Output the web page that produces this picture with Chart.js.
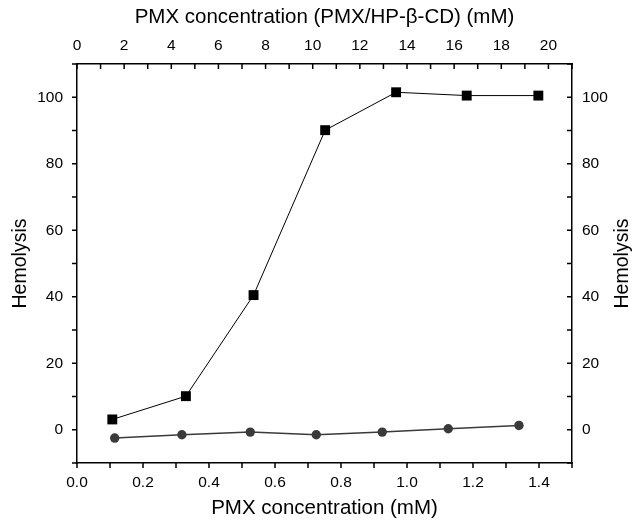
<!DOCTYPE html>
<html>
<head>
<meta charset="utf-8">
<script src="https://cdn.jsdelivr.net/npm/chart.js@4"></script>
<style>
  html, body { margin: 0; padding: 0; background: #fff; }
  #chart { display: block; }
</style>
</head>
<body>
<canvas id="chart" width="635" height="521"></canvas>
<script>
// PMX alone (bottom axis, mM)
const pmxConc = [0.107, 0.33, 0.535, 0.752, 0.967, 1.181, 1.398];
const pmxHemolysis = [3.1, 10.1, 40.5, 90.1, 101.5, 100.5, 100.5];

// PMX/HP-beta-CD complex (top axis, mM)
const complexConc = [1.6, 4.45, 7.35, 10.15, 12.95, 15.75, 18.75];
const complexHemolysis = [-2.5, -1.5, -0.7, -1.5, -0.7, 0.3, 1.3];

const bottomTitle = "PMX concentration (mM)";
const topTitle = "PMX concentration (PMX/HP-\u03B2-CD) (mM)";
const yTitle = "Hemolysis";

const fontFamily = "'Liberation Sans', Arial, sans-serif";
const tickFont = { family: fontFamily, size: 15.5 };
const titleFont = { family: fontFamily, size: 20.5 };
const sideTitleFont = { family: fontFamily, size: 19.5 };

// short tick marks: outward on left/bottom, inward on top/right
const tickMarks = {
  id: "tickMarks",
  afterDraw(chart) {
    const ctx = chart.ctx;
    const area = chart.chartArea;
    const len = 5;
    ctx.save();
    ctx.strokeStyle = "#000";
    ctx.lineWidth = 1.5;
    ctx.beginPath();
    chart.scales.x.ticks.forEach((t) => {
      const px = chart.scales.x.getPixelForValue(t.value);
      ctx.moveTo(px, area.bottom);
      ctx.lineTo(px, area.bottom + len);
    });
    chart.scales.x2.ticks.forEach((t) => {
      const px = chart.scales.x2.getPixelForValue(t.value);
      ctx.moveTo(px, area.top);
      ctx.lineTo(px, area.top + len);
    });
    chart.scales.y.ticks.forEach((t) => {
      const py = chart.scales.y.getPixelForValue(t.value);
      ctx.moveTo(area.left, py);
      ctx.lineTo(area.left - len, py);
    });
    chart.scales.y2.ticks.forEach((t) => {
      const py = chart.scales.y2.getPixelForValue(t.value);
      ctx.moveTo(area.right, py);
      ctx.lineTo(area.right - len, py);
    });
    ctx.stroke();

    // right axis title reads bottom-to-top like the left one
    ctx.translate(623, (area.top + area.bottom) / 2);
    ctx.rotate(-Math.PI / 2);
    ctx.fillStyle = "#000";
    ctx.font = sideTitleFont.size + "px " + fontFamily;
    ctx.textAlign = "center";
    ctx.textBaseline = "middle";
    ctx.fillText(yTitle, 0, 0);
    ctx.restore();
  },
};

function fixSize(prop, size) {
  return function (scale) {
    scale[prop] = size;
  };
}

const border = { display: true, color: "#000", width: 1.5 };
const noGrid = { display: false, drawTicks: false };

new Chart(document.getElementById("chart"), {
  type: "line",
  data: {
    datasets: [
      {
        label: "PMX",
        data: pmxConc.map((x, i) => ({ x: x, y: pmxHemolysis[i] })),
        xAxisID: "x",
        yAxisID: "y",
        borderColor: "#000",
        borderWidth: 1,
        backgroundColor: "#000",
        pointStyle: "rect",
        pointRadius: 7,
        pointBorderWidth: 0,
        tension: 0,
      },
      {
        label: "PMX/HP-\u03B2-CD",
        data: complexConc.map((x, i) => ({ x: x, y: complexHemolysis[i] })),
        xAxisID: "x2",
        yAxisID: "y",
        borderColor: "#3a3a3a",
        borderWidth: 1.5,
        backgroundColor: "#3a3a3a",
        pointStyle: "circle",
        pointRadius: 4.7,
        pointBorderWidth: 0,
        tension: 0,
      },
    ],
  },
  options: {
    responsive: false,
    animation: false,
    layout: { padding: 0 },
    plugins: { legend: { display: false }, tooltip: { enabled: false } },
    scales: {
      x: {
        type: "linear",
        position: "bottom",
        min: 0,
        max: 1.5,
        grid: noGrid,
        border: border,
        afterFit: fixSize("height", 58),
        ticks: {
          stepSize: 0.1,
          autoSkip: false,
          maxRotation: 0,
          padding: 10,
          color: "#000",
          font: tickFont,
          callback: (v) => (Math.round(v * 10) % 2 === 0 && v < 1.45 ? v.toFixed(1) : ""),
        },
        title: { display: true, text: bottomTitle, color: "#000", font: titleFont, padding: { top: 0, bottom: 0 } },
      },
      x2: {
        type: "linear",
        position: "top",
        min: 0,
        max: 21,
        grid: noGrid,
        border: border,
        afterFit: fixSize("height", 64),
        ticks: {
          stepSize: 1,
          autoSkip: false,
          maxRotation: 0,
          padding: 9,
          color: "#000",
          font: tickFont,
          callback: (v) => (Math.round(v) % 2 === 0 && v <= 20 ? String(v) : ""),
        },
        title: { display: true, text: topTitle, color: "#000", font: titleFont, padding: { top: 5, bottom: 0 } },
      },
      y: {
        type: "linear",
        position: "left",
        min: -10,
        max: 110,
        grid: noGrid,
        border: border,
        afterFit: fixSize("width", 77),
        ticks: {
          stepSize: 10,
          autoSkip: false,
          padding: 14,
          color: "#000",
          font: tickFont,
          callback: (v) => (v % 20 === 0 && v >= 0 && v <= 100 ? String(v) : ""),
        },
        title: { display: true, text: yTitle, color: "#000", font: sideTitleFont, padding: { top: 9, bottom: 0 } },
      },
      y2: {
        type: "linear",
        position: "right",
        min: -10,
        max: 110,
        grid: noGrid,
        border: border,
        afterFit: fixSize("width", 63),
        ticks: {
          stepSize: 10,
          autoSkip: false,
          padding: 10,
          color: "#000",
          font: tickFont,
          callback: (v) => (v % 20 === 0 && v >= 0 && v <= 100 ? String(v) : ""),
        },
        title: { display: false },
      },
    },
  },
  plugins: [tickMarks],
});
</script>
</body>
</html>
